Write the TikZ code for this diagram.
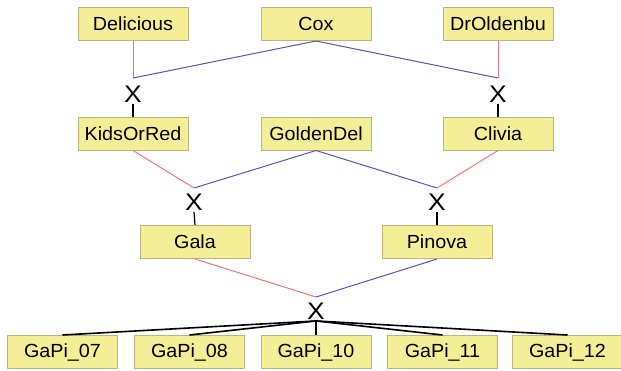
\documentclass[tikz,border=0pt]{standalone}
\usepackage{fontspec}
\setmainfont{Liberation Sans}
\definecolor{boxfill}{RGB}{244,238,150}
\definecolor{boxline}{RGB}{190,180,130}
\definecolor{redline}{RGB}{232,120,120}
\definecolor{blueline}{RGB}{85,85,180}
\begin{document}
\begin{tikzpicture}[x=1pt,y=-1pt,
  cultivar/.style={draw=boxline,line width=1pt,fill=boxfill,minimum width=110pt,minimum height=33pt,inner sep=0pt,
    font=\addfontfeatures{FakeStretch=1.04}\fontsize{19}{22}\selectfont},
  cross/.style={inner sep=1.5pt,font=\addfontfeatures{FakeStretch=1.1}\fontsize{24}{24}\selectfont},
  mother/.style={draw=redline,line width=1pt},
  father/.style={draw=blueline,line width=1pt},
  child/.style={draw=black,line width=1.6pt}]
\useasboundingbox (0,0) rectangle (621,370);
% row 1
\node[cultivar] (del) at (133,24) {Delicious};
\node[cultivar] (cox) at (316,24) {Cox};
\node[cultivar] (dro) at (498,24) {DrOldenbu};
% row 2
\node[cultivar] (kid) at (133,133.5) {KidsOrRed};
\node[cultivar] (gol) at (316,133.5) {GoldenDel};
\node[cultivar] (cli) at (498,133.5) {Clivia};
% row 3
\node[cultivar] (gal) at (195,242) {Gala};
\node[cultivar] (pin) at (437,242) {Pinova};
% row 4
\node[cultivar] (g07) at (62.5,352) {GaPi\_07};
\node[cultivar] (g08) at (189.5,352) {GaPi\_08};
\node[cultivar] (g10) at (316,352) {GaPi\_10};
\node[cultivar] (g11) at (442.5,352) {GaPi\_11};
\node[cultivar] (g12) at (567.5,352) {GaPi\_12};
% junctions
\coordinate (j1) at (133,78);
\coordinate (j2) at (498,78);
\coordinate (j3) at (194,188);
\coordinate (j4) at (437,188);
\coordinate (j5) at (316,297);
% crosses
\node[cross] (x1) at (133,94) {X};
\node[cross] (x2) at (498,94) {X};
\node[cross] (x3) at (194,202) {X};
\node[cross] (x4) at (437,202) {X};
\node[cross] (x5) at (316,311) {X};
% parent lines
\draw[mother] (del.south) -- (j1);
\draw[father] (cox.south) -- (j1);
\draw[father] (cox.south) -- (j2);
\draw[mother] (dro.south) -- (j2);
\draw[mother] (kid.south) -- (j3);
\draw[father] (gol.south) -- (j3);
\draw[father] (gol.south) -- (j4);
\draw[mother] (cli.south) -- (j4);
\draw[mother] (gal.south) -- (j5);
\draw[father] (pin.south) -- (j5);
% offspring lines
\draw[child,line width=1.2pt] (x1.south) -- (kid.north);
\draw[child,line width=1.2pt] (x2.south) -- (cli.north);
\draw[child,line width=1.2pt] (x3.south) -- (gal.north);
\draw[child,line width=1.2pt] (x4.south) -- (pin.north);
\draw[child] (x5.south) -- (g07.north);
\draw[child] (x5.south) -- (g08.north);
\draw[child] (x5.south) -- (g10.north);
\draw[child] (x5.south) -- (g11.north);
\draw[child] (x5.south) -- (g12.north);
\end{tikzpicture}
\end{document}
